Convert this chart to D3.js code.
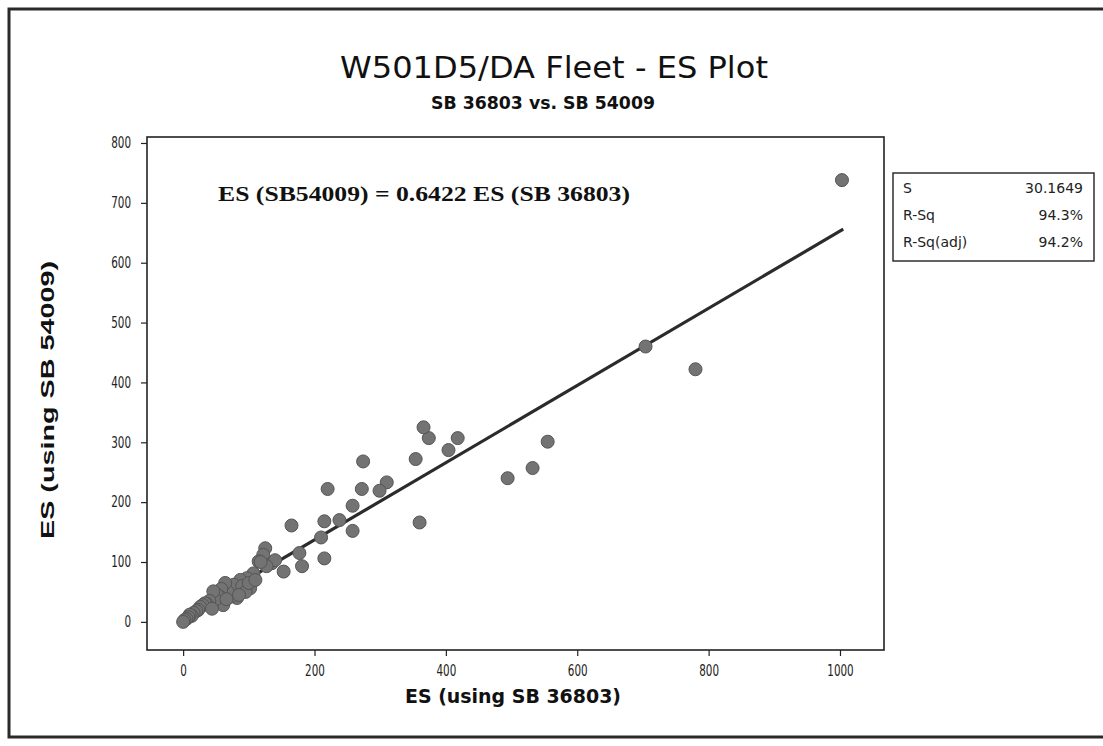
<!DOCTYPE html>
<html>
<head>
<meta charset="utf-8">
<script src="https://d3js.org/d3.v7.min.js"></script>
<style>
  body { margin: 0; background: #ffffff; }
</style>
</head>
<body>
<div id="chart"></div>
<script>
// ES values (x = using SB 36803, y = using SB 54009)
var esSB36803 = [1003, 704, 780, 555, 532, 494, 418, 404, 374, 366, 354, 360, 274, 272, 310, 299, 258, 238, 258, 220,
    215, 165, 210, 215, 177, 181, 153, 125, 122, 115, 135, 140, 127, 107, 102, 97, 87, 82, 77, 72,
    68, 64, 61, 58, 56, 52, 49, 46, 40, 36, 33, 30, 26, 23, 20, 16, 13, 10, 8, 5,
    2, 0, 90, 95, 100, 110, 118, 85, 66, 44];
var esSB54009 = [738, 460, 422, 301, 257, 240, 307, 287, 307, 325, 272, 166, 268, 222, 233, 219, 194, 170, 152, 222,
    168, 161, 141, 106, 115, 93, 84, 123, 112, 101, 98, 103, 93, 81, 56, 73, 70, 40, 62, 42,
    50, 65, 28, 55, 42, 45, 37, 51, 35, 30, 31, 28, 25, 20, 18, 15, 10, 12, 8, 5,
    3, 0, 60, 50, 65, 70, 100, 45, 38, 22];

// fitted line as drawn on the plot (ends)
var slope = 0.6422;
var fitX = [0, 1005];
var fitY = [8, 656];

var xTicks = [0, 200, 400, 600, 800, 1000];
var yTicks = [0, 100, 200, 300, 400, 500, 600, 700, 800];
var statNames = ["S", "R-Sq", "R-Sq(adj)"];
var statValues = ["30.1649", "94.3%", "94.2%"];

var width = 1103, height = 746;
var margin = { top: 137, right: 219, bottom: 96, left: 147 };

var svg = d3.select("#chart").append("svg")
    .attr("width", width)
    .attr("height", height);

var sans = "'DejaVu Sans', sans-serif";

// outer frame of the scanned page
svg.append("rect")
    .attr("x", 9)
    .attr("y", 9)
    .attr("width", width + 20)
    .attr("height", 728)
    .attr("fill", "none")
    .attr("stroke", "#2a2a2a")
    .attr("stroke-width", 3);

var x = d3.scaleLinear()
    .domain([-55, 1067])
    .range([margin.left, width - margin.right]);

var y = d3.scaleLinear()
    .domain([-47, 810])
    .range([height - margin.bottom, margin.top]);

// squeeze text into a width, like the narrow font of the original
function squeeze(sel, len) {
    sel.attr("textLength", len).attr("lengthAdjust", "spacingAndGlyphs");
}

// titles
svg.append("text")
    .attr("x", 554)
    .attr("y", 78)
    .attr("text-anchor", "middle")
    .attr("font-family", sans)
    .attr("font-size", "31px")
    .attr("fill", "#111")
    .text("W501D5/DA  Fleet - ES Plot")
    .call(squeeze, 428);

svg.append("text")
    .attr("x", 543)
    .attr("y", 109)
    .attr("text-anchor", "middle")
    .attr("font-family", sans)
    .attr("font-size", "17px")
    .attr("font-weight", "bold")
    .attr("fill", "#111")
    .text("SB 36803 vs. SB 54009")
    .call(squeeze, 224);

// axes
var xAxis = svg.append("g")
    .attr("transform", "translate(0," + (height - margin.bottom) + ")")
    .call(d3.axisBottom(x).tickValues(xTicks).tickFormat(d3.format("d")).tickSize(6).tickPadding(9));

var yAxis = svg.append("g")
    .attr("transform", "translate(" + margin.left + ",0)")
    .call(d3.axisLeft(y).tickValues(yTicks).tickFormat(d3.format("d")).tickSize(6).tickPadding(10));

[xAxis, yAxis].forEach(function (g) {
    g.select(".domain").remove();
    g.selectAll(".tick line").attr("stroke", "#222").attr("stroke-width", 1.2);
    g.selectAll(".tick text")
        .attr("font-family", sans)
        .attr("font-size", "15px")
        .attr("fill", "#222")
        .attr("textLength", function (d) { return String(d).length * 6.6; })
        .attr("lengthAdjust", "spacingAndGlyphs");
});

// regression line
svg.append("line")
    .attr("x1", x(fitX[0]))
    .attr("y1", y(fitY[0]))
    .attr("x2", x(fitX[1]))
    .attr("y2", y(fitY[1]))
    .attr("stroke", "#2b2b2b")
    .attr("stroke-width", 3.2);

// points
svg.append("g")
    .selectAll("circle")
    .data(d3.range(esSB36803.length))
    .join("circle")
    .attr("cx", function (i) { return x(esSB36803[i]); })
    .attr("cy", function (i) { return y(esSB54009[i]); })
    .attr("r", 6.5)
    .attr("fill", "#737373")
    .attr("stroke", "#555555")
    .attr("stroke-width", 1);

// plot frame
svg.append("rect")
    .attr("x", margin.left)
    .attr("y", margin.top)
    .attr("width", width - margin.left - margin.right)
    .attr("height", height - margin.top - margin.bottom)
    .attr("fill", "none")
    .attr("stroke", "#222")
    .attr("stroke-width", 1.6);

// equation
svg.append("text")
    .attr("x", 218)
    .attr("y", 201)
    .attr("font-family", "'Liberation Serif', 'DejaVu Serif', serif")
    .attr("font-size", "22px")
    .attr("font-weight", "bold")
    .attr("fill", "#111")
    .text("ES (SB54009) = " + slope + " ES (SB 36803)")
    .call(squeeze, 412);

// axis labels
svg.append("text")
    .attr("x", 513)
    .attr("y", 703)
    .attr("text-anchor", "middle")
    .attr("font-family", sans)
    .attr("font-size", "19px")
    .attr("font-weight", "bold")
    .attr("fill", "#111")
    .text("ES (using SB 36803)")
    .call(squeeze, 216);

svg.append("text")
    .attr("transform", "translate(54,400) rotate(-90)")
    .attr("text-anchor", "middle")
    .attr("font-family", "'Liberation Sans', Arial, sans-serif")
    .attr("font-size", "18px")
    .attr("font-weight", "bold")
    .attr("fill", "#111")
    .text("ES (using SB 54009)")
    .call(squeeze, 278);

// stats box
var legend = svg.append("g")
    .attr("transform", "translate(893,173)");

legend.append("rect")
    .attr("width", 201)
    .attr("height", 88)
    .attr("fill", "white")
    .attr("stroke", "#222")
    .attr("stroke-width", 1.4);

legend.selectAll(".stat-name")
    .data(statNames)
    .join("text")
    .attr("class", "stat-name")
    .attr("x", 10)
    .attr("y", function (d, i) { return 20 + i * 27; })
    .attr("font-family", sans)
    .attr("font-size", "14px")
    .attr("fill", "#222")
    .text(function (d) { return d; });

legend.selectAll(".stat-value")
    .data(statValues)
    .join("text")
    .attr("class", "stat-value")
    .attr("x", 190)
    .attr("y", function (d, i) { return 20 + i * 27; })
    .attr("text-anchor", "end")
    .attr("font-family", sans)
    .attr("font-size", "14px")
    .attr("fill", "#222")
    .text(function (d) { return d; });
</script>
</body>
</html>
